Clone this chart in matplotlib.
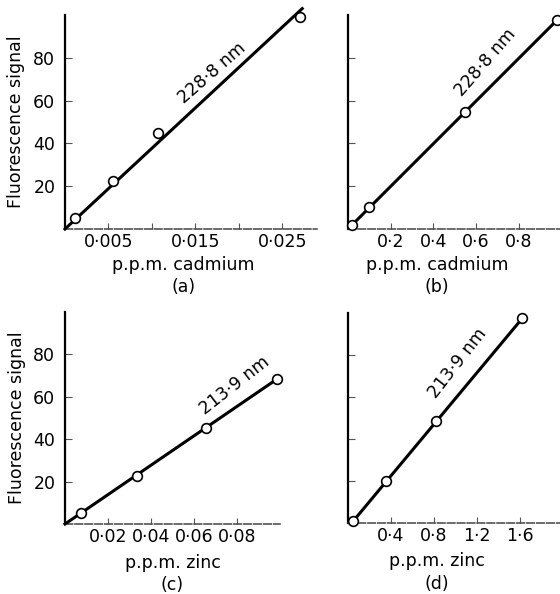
import matplotlib
matplotlib.use("Agg")
import matplotlib.pyplot as plt

# ---- data ----
cd_low_x = [0.0012, 0.0055, 0.0107, 0.0271]      # (a) p.p.m. cadmium
cd_low_y = [5.1, 22.3, 45.0, 99.0]
cd_low_fit_x = [0.0, 0.0273]
cd_low_fit_y = [0.0, 103.0]

cd_high_x = [0.02, 0.098, 0.548, 0.98]           # (b) p.p.m. cadmium
cd_high_y = [2.0, 10.2, 54.9, 97.7]

zn_low_x = [0.0074, 0.0333, 0.0654, 0.0988]      # (c) p.p.m. zinc
zn_low_y = [5.2, 22.5, 45.5, 68.5]
zn_low_fit_x = [0.0, 0.0988]
zn_low_fit_y = [0.0, 68.5]

zn_high_x = [0.05, 0.35, 0.82, 1.62]             # (d) p.p.m. zinc
zn_high_y = [1.0, 19.8, 48.8, 97.5]

y_ticks = [20, 40, 60, 80]
y_ticklabels = ["20", "40", "60", "80"]

a_ticks = [0.005, 0.010, 0.015, 0.020, 0.025]
a_labels = ["0·005", "", "0·015", "", "0·025"]
b_ticks = [0.2, 0.4, 0.6, 0.8]
b_labels = ["0·2", "0·4", "0·6", "0·8"]
c_ticks = [0.02, 0.04, 0.06, 0.08]
c_labels = ["0·02", "0·04", "0·06", "0·08"]
d_ticks = [0.4, 0.8, 1.2, 1.6]
d_labels = ["0·4", "0·8", "1·2", "1·6"]

FS = 12.5
plt.rcParams["font.family"] = ["DejaVu Sans"]

fig = plt.figure(figsize=(5.6, 5.94), dpi=100)
W, H = 560.0, 594.0


def make_axes(left, bottom, width, height):
    ax = fig.add_axes([left / W, 1 - bottom / H, width / W, height / H])
    ax.spines["top"].set_visible(False)
    ax.spines["right"].set_visible(False)
    ax.spines["left"].set_linewidth(1.6)
    ax.spines["bottom"].set_linewidth(1.1)
    ax.spines["bottom"].set_color("#444444")
    ax.spines["bottom"].set_linestyle((0, (5, 1.5)))
    ax.set_ylim(0, 100)
    ax.set_yticks(y_ticks)
    ax.tick_params(axis="both", direction="in", labelsize=FS, color="#555555")
    ax.tick_params(axis="y", length=5, width=0.8, pad=7)
    ax.tick_params(axis="x", length=4, width=0.8, pad=3)
    ax.patch.set_alpha(0)
    return ax


def draw(ax, x, y, fit_x=None, fit_y=None):
    if fit_x is None:
        fit_x, fit_y = [x[0], x[-1]], [y[0], y[-1]]
    ax.plot(fit_x, fit_y, color="black", lw=2.2, clip_on=False, zorder=3)
    ax.plot(x, y, "o", ms=7, mfc="white", mec="black", mew=1.2,
            clip_on=False, zorder=4)


def labels(ax, text, lx, ly):
    ax.text(lx, ly, text, transform=ax.transAxes, ha="center", va="top",
            fontsize=FS, linespacing=1.3)


# (a)
ax = make_axes(65, 229, 252, 214)
ax.set_xlim(0, 0.029)
ax.set_xticks(a_ticks)
ax.set_xticklabels(a_labels)
ax.set_yticklabels(y_ticklabels)
draw(ax, cd_low_x, cd_low_y, cd_low_fit_x, cd_low_fit_y)
ax.text(0.01695, 73, "228·8 nm", fontsize=FS, rotation=41,
        ha="center", va="center", rotation_mode="anchor")
ax.set_ylabel("Fluorescence signal", fontsize=FS)
ax.yaxis.set_label_coords(-0.16, 0.5)
labels(ax, "p.p.m. cadmium\n(a)", 0.47, -0.125)

# (b)
ax = make_axes(348, 229, 212, 214)
ax.set_xlim(0, 0.993)
ax.set_xticks(b_ticks)
ax.set_xticklabels(b_labels)
ax.set_yticklabels([])
draw(ax, cd_high_x, cd_high_y)
ax.text(0.642, 77.7, "228·8 nm", fontsize=FS, rotation=49,
        ha="center", va="center", rotation_mode="anchor")
labels(ax, "p.p.m. cadmium\n(b)", 0.42, -0.125)

# (c)
ax = make_axes(65, 524, 215, 212)
ax.set_xlim(0, 0.1)
ax.set_xticks(c_ticks)
ax.set_xticklabels(c_labels)
ax.set_yticklabels(y_ticklabels)
draw(ax, zn_low_x, zn_low_y, zn_low_fit_x, zn_low_fit_y)
ax.text(0.079, 65.3, "213·9 nm", fontsize=FS, rotation=38,
        ha="center", va="center", rotation_mode="anchor")
ax.set_ylabel("Fluorescence signal", fontsize=FS)
ax.yaxis.set_label_coords(-0.18, 0.5)
labels(ax, "p.p.m. zinc\n(c)", 0.50, -0.14)

# (d)
ax = make_axes(348, 523, 212, 210)
ax.set_xlim(0, 1.97)
ax.set_xticks(d_ticks)
ax.set_xticklabels(d_labels)
ax.set_yticklabels([])
draw(ax, zn_high_x, zn_high_y)
ax.text(1.02, 76, "213·9 nm", fontsize=FS, rotation=52,
        ha="center", va="center", rotation_mode="anchor")
labels(ax, "p.p.m. zinc\n(d)", 0.42, -0.14)

fig.savefig("out.png", dpi=100)
plt.close(fig)
